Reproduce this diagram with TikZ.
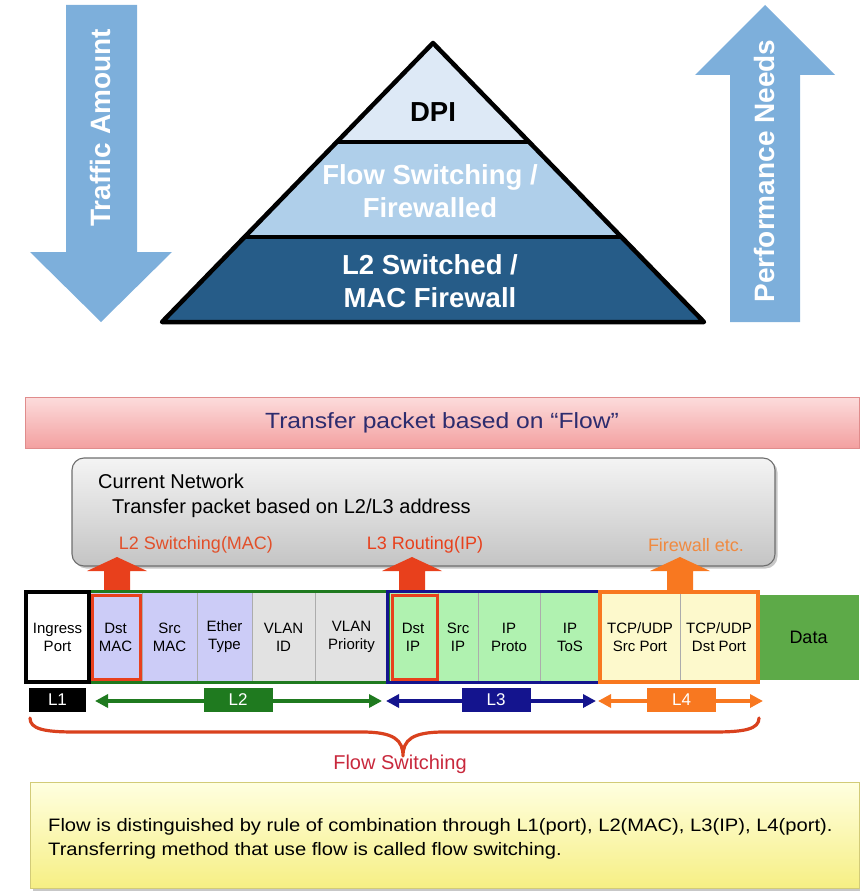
\documentclass[tikz,border=0pt]{standalone}
\usepackage{fontspec}
\setmainfont{Liberation Sans}
\newfontfamily\widesans[FakeStretch=1.12]{Liberation Sans}
\usetikzlibrary{arrows.meta}

\definecolor{arrowblue}{HTML}{7DAFDB}
\definecolor{dpiband}{HTML}{DDE9F6}
\definecolor{flowband}{HTML}{AFCFEA}
\definecolor{macband}{HTML}{265C88}
\definecolor{pinktop}{HTML}{FCDCDC}
\definecolor{pinkbot}{HTML}{F3A0A0}
\definecolor{pinkedge}{HTML}{E08C8C}
\definecolor{navytext}{HTML}{2D2C6E}
\definecolor{graytop}{HTML}{F4F4F4}
\definecolor{graybot}{HTML}{C4C4C4}
\definecolor{grayedge}{HTML}{6E6E6E}
\definecolor{redbox}{HTML}{E8401C}
\definecolor{redlabel}{HTML}{E2502A}
\definecolor{orangelabel}{HTML}{F08A40}
\definecolor{orangeline}{HTML}{F87820}
\definecolor{lavender}{HTML}{CCCCF7}
\definecolor{vlangray}{HTML}{E2E2E2}
\definecolor{ipgreen}{HTML}{B0F2B0}
\definecolor{portyellow}{HTML}{FDF9CC}
\definecolor{datagreen}{HTML}{5DAA48}
\definecolor{ltwogreen}{HTML}{1F7A1F}
\definecolor{lthreeblue}{HTML}{14148E}
\definecolor{bracered}{HTML}{D9411E}
\definecolor{flowred}{HTML}{C8283C}
\definecolor{yeltop}{HTML}{FFFFE0}
\definecolor{yelbot}{HTML}{F6EF84}
\definecolor{yeledge}{HTML}{D2CB78}

\begin{document}
\begin{tikzpicture}[x=1pt,y=-1pt,
  bandtext/.style={font=\bfseries\fontsize{27.5}{33}\selectfont, align=center, inner sep=0},
  sidetext/.style={font=\bfseries\fontsize{28}{32}\selectfont, text=white, rotate=90, inner sep=0},
  field/.style={draw=gray!65, line width=0.6pt, minimum height=90, inner sep=0,
                font=\fontsize{15}{18}\selectfont, align=center, text=black},
  grpline/.style={line width=3.5pt},
  dstbox/.style={draw=redbox, line width=3.5pt},
  layerbox/.style={minimum width=69, minimum height=24, inner sep=0,
                   font=\fontsize{17}{19}\selectfont, text=white},
  rangetip/.tip={Triangle[length=13pt,width=13pt]},
  softshadow/.style={preaction={fill=black!22, transform canvas={shift={(2.5pt,-2.5pt)}}}},
  lbl/.style={font=\fontsize{18}{21}\selectfont, inner sep=0}
]
\useasboundingbox (0,0) rectangle (859,893);

% ---------- side arrows ----------
\fill[arrowblue] (66,5) -- (137,5) -- (137,252) -- (172,252) -- (101,322)
   -- (30,252) -- (66,252) -- cycle;
\fill[arrowblue] (765,5) -- (835,75) -- (800,75) -- (800,322) -- (730,322)
   -- (730,75) -- (695,75) -- cycle;
\node[sidetext] (traffic) at (100,128) {Traffic Amount};
\node[sidetext] (perf) at (764,171) {Performance Needs};

% ---------- pyramid ----------
\fill[dpiband]  (433,43) -- (529,142) -- (337,142) -- cycle;
\fill[flowband] (337,142) -- (529,142) -- (621,237) -- (245,237) -- cycle;
\fill[macband]  (245,237) -- (621,237) -- (704,322) -- (162,322) -- cycle;
\draw[line width=4.5pt, line join=round] (433,43) -- (704,322) -- (162,322) -- cycle;
\draw[line width=4.5pt] (337,142) -- (529,142);
\draw[line width=4.5pt] (245,237) -- (621,237);
\node[bandtext, text=black] (dpi) at (433,112) {DPI};
\node[bandtext, text=white] (flowsw) at (430,191) {Flow Switching /\\Firewalled};
\node[bandtext, text=white] (l2sw) at (430,281) {L2 Switched /\\MAC Firewall};

% ---------- flow banner ----------
\node[draw=pinkedge, line width=0.8pt, top color=pinktop, bottom color=pinkbot,
      minimum width=834, minimum height=51, inner sep=0,
      font=\widesans\fontsize{22}{26}\selectfont, text=navytext] (banner) at (442,422.5)
      {Transfer packet based on “Flow”};

% ---------- current network box ----------
\node[softshadow, draw=grayedge, line width=1.1pt, rounded corners=12pt,
      top color=graytop, bottom color=graybot,
      minimum width=703, minimum height=108, inner sep=0] (curbox) at (423.5,512) {};
\node[lbl, anchor=west, font=\fontsize{20}{23}\selectfont] (curnet) at (98,481) {Current Network};
\node[lbl, anchor=west, font=\fontsize{20}{23}\selectfont] (curl23) at (112,508) {Transfer packet based on L2/L3 address};
\node[lbl, text=redlabel] (l2lab) at (196,545) {L2 Switching(MAC)};
\node[lbl, text=redbox] (l3lab) at (425,545) {L3 Routing(IP)};
\node[lbl, text=orangelabel] (fwlab) at (696,545) {Firewall etc.};

% ---------- block arrows into the box ----------
\foreach \cx/\col in {117/redbox, 412/redbox, 680/orangeline}{
  \fill[\col] (\cx,557) -- ({\cx+30},571) -- ({\cx+13},571) -- ({\cx+13},593)
     -- ({\cx-13},593) -- ({\cx-13},571) -- ({\cx-30},571) -- cycle;
}

% ---------- packet header fields ----------
\node[field, fill=white,      minimum width=63] (ingress)  at (57.5,637)  {Ingress\\Port};
\node[field, fill=lavender,   minimum width=53] (dstmac)   at (115.5,637) {Dst\\MAC};
\node[field, fill=lavender,   minimum width=55] (srcmac)   at (169.5,637) {Src\\MAC};
\node[field, fill=lavender,   minimum width=55] (ethtype)  at (224.5,637) {Ether\\Type};
\node[field, fill=vlangray,   minimum width=63] (vlanid)   at (283.5,637) {VLAN\\ID};
\node[field, fill=vlangray,   minimum width=73] (vlanprio) at (351.5,637) {VLAN\\Priority};
\node[field, fill=ipgreen,    minimum width=50] (dstip)    at (413,637)   {Dst\\IP};
\node[field, fill=ipgreen,    minimum width=40] (srcip)    at (458,637)   {Src\\IP};
\node[field, fill=ipgreen,    minimum width=62] (ipproto)  at (509,637)   {IP\\Proto};
\node[field, fill=ipgreen,    minimum width=60] (iptos)    at (570,637)   {IP\\ToS};
\node[field, fill=portyellow, minimum width=80] (tcpsrc)   at (640,637)   {TCP/UDP\\Src Port};
\node[field, fill=portyellow, minimum width=78] (tcpdst)   at (719,637)   {TCP/UDP\\Dst Port};
\node[field, draw=none, fill=datagreen, minimum width=101, minimum height=85,
      font=\fontsize{18}{21}\selectfont] (data) at (808.5,637.5) {Data};

% group outlines
\draw[grpline, draw=ltwogreen]  (dstmac.north west) rectangle (vlanprio.south east);
\draw[grpline, draw=lthreeblue] (dstip.north west) rectangle (iptos.south east);
\draw[grpline, draw=orangeline, line width=4pt] (tcpsrc.north west) rectangle (tcpdst.south east);
\draw[grpline, draw=black, line width=4pt] (ingress.north west) rectangle (ingress.south east);
\draw[dstbox] ([shift={(4,4)}]dstmac.north west) rectangle ([shift={(-2,-3)}]dstmac.south east);
\draw[dstbox] ([shift={(5,4)}]dstip.north west) rectangle ([shift={(-1,-3)}]dstip.south east);

% ---------- layer ranges ----------
\coordinate (l2a) at (95,701);  \coordinate (l2b) at (382,701);
\coordinate (l3a) at (386,701); \coordinate (l3b) at (596,701);
\coordinate (l4a) at (598,701); \coordinate (l4b) at (763,701);
\draw[ltwogreen, line width=4pt, rangetip-rangetip]  (l2a) -- (l2b);
\draw[lthreeblue, line width=4pt, rangetip-rangetip] (l3a) -- (l3b);
\draw[orangeline, line width=4pt, rangetip-rangetip] (l4a) -- (l4b);
\node[layerbox, fill=black, minimum width=57] (L1) at (57.5,700) {L1};
\node[layerbox, fill=ltwogreen]  (L2) at (238,700) {L2};
\node[layerbox, fill=lthreeblue] (L3) at (496,700) {L3};
\node[layerbox, fill=orangeline] (L4) at (681.5,700) {L4};

% ---------- flow switching brace ----------
\draw[bracered, line width=3.2pt, line cap=round, line join=round]
  (30,718) .. controls (30,729) and (44,732) .. (75,732) -- (362,732)
  .. controls (394,732) and (403,740) .. (403,756)
  .. controls (403,740) and (412,732) .. (444,732) -- (714,732)
  .. controls (745,732) and (759,729) .. (759,718);
\node[lbl, text=flowred, font=\fontsize{20}{23}\selectfont] (flowlab) at (400,764) {Flow Switching};

% ---------- explanation note ----------
\node[softshadow, draw=yeledge, line width=0.8pt, top color=yeltop, bottom color=yelbot,
      minimum width=829, minimum height=106, inner sep=0] (note) at (444.5,835) {};
\node[anchor=west, align=left, inner sep=0, font=\widesans\fontsize{18}{24}\selectfont] (notetext) at (48,839)
  {Flow is distinguished by rule of combination through L1(port), L2(MAC), L3(IP), L4(port).\\
   Transferring method that use flow is called flow switching.};
\end{tikzpicture}
\end{document}
